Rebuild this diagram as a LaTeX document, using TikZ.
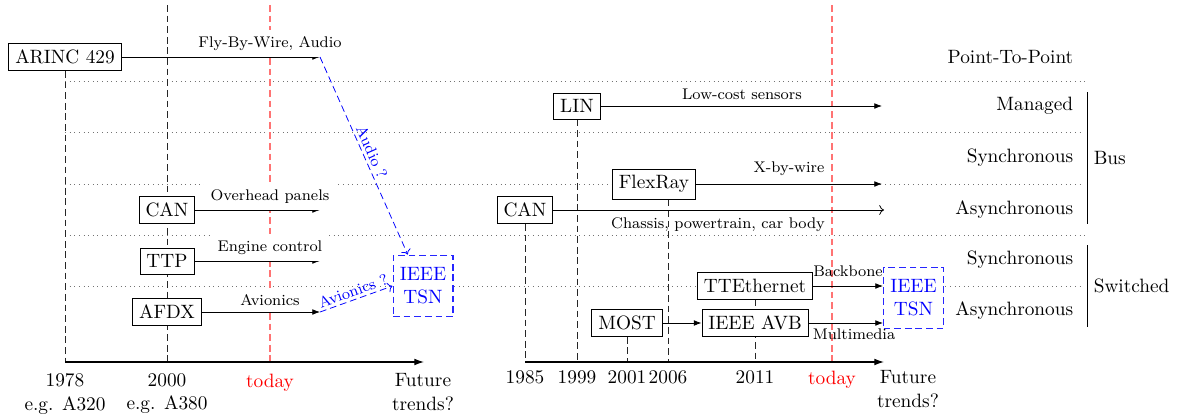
\documentclass[tikz,border=0pt]{standalone}
\usetikzlibrary{arrows.meta,backgrounds,calc}
\begin{document}
\begin{tikzpicture}[x=0.518pt,y=-0.518pt,
  tech/.style={draw, fill=white},
  future/.style={draw=blue!85, dash pattern=on 3.5pt off 2pt, semithick, fill=white,
                 text=blue, align=center,
                 minimum width=31pt, minimum height=32pt, inner sep=2pt},
  lab/.style={font=\footnotesize},
  labfill/.style={font=\footnotesize, fill=white},
  flow/.style={-{Latex[length=4pt,width=3pt]}},
  openflow/.style={->},
  hint/.style={blue, dash pattern=on 3.5pt off 2pt, ->},
  era/.style={dash pattern=on 3.5pt off 2pt, black!85},
  now/.style={dash pattern=on 3.5pt off 2pt, red!55, line width=0.75pt},
  sep/.style={dotted, black!55},
  axis/.style={semithick, -{Latex[length=5pt,width=3.5pt]}},
  yr/.style={anchor=north, align=center},
  cat/.style={anchor=east},
]
\useasboundingbox (0,0) rectangle (1179,418);

% ---------------- aviation timeline ----------------
\node[tech] (arinc) at (65,57) {ARINC 429};
\node[tech] (canA) at (167,210) {CAN};
\node[tech] (ttp) at (167,261) {TTP};
\node[tech] (afdx) at (167,312) {AFDX};
\node[future] (tsnA) at (423,286) {IEEE\\TSN};

\coordinate (arincEnd) at (320,57);
\coordinate (canAEnd) at (320,210);
\coordinate (ttpEnd) at (320,261);
\coordinate (afdxEnd) at (320,312);

\coordinate (axA0) at (65,362);
\coordinate (axA1) at (424,362);
\coordinate (t2000top) at (167,5);
\coordinate (t2000) at (167,362);
\coordinate (nowAtop) at (270,5);
\coordinate (nowA) at (270,362);

% ---------------- automotive timeline ----------------
\node[tech] (lin) at (577,106) {LIN};
\node[tech] (flexray) at (654,184) {FlexRay};
\node[tech] (canB) at (525,210) {CAN};
\node[tech] (most) at (627,323) {MOST};
\node[tech] (tte) at (755,286) {TTEthernet};
\node[tech] (avb) at (755,323) {IEEE AVB};
\node[future] (tsnB) at (913.5,298) {IEEE\\TSN};

\coordinate (linEnd) at (882,106);
\coordinate (flexEnd) at (882,184);
\coordinate (canBEnd) at (884,210);

\coordinate (axB0) at (525,362);
\coordinate (axB1) at (884,362);
\coordinate (t1999) at (577,362);
\coordinate (t2001) at (627,362);
\coordinate (t2006) at (668,362);
\coordinate (t2011) at (755,362);
\coordinate (nowBtop) at (832,5);
\coordinate (nowB) at (832,362);

% ---------------- grid behind the boxes ----------------
\begin{scope}[on background layer]
  \draw[sep] (65,81) -- (1087,81);
  \draw[sep] (65,132) -- (1084,132);
  \draw[sep] (65,184) -- (1084,184);
  \draw[sep] (65,235) -- (1087,235);
  \draw[sep] (65,286) -- (1084,286);

  \draw[era] (arinc.south) -- (axA0);
  \draw[era] (t2000top) -- (t2000);
  \draw[now] (nowAtop) -- (nowA);

  \draw[era] (canB.south) -- (axB0);
  \draw[era] (lin.south) -- (t1999);
  \draw[era] (most.south) -- (t2001);
  \draw[era] (flexray.south -| t2006) -- (t2006);
  \draw[era] (tte.south) -- (t2011);
  \draw[now] (nowBtop) -- (nowB);
\end{scope}

% ---------------- aviation links ----------------
\draw[flow] (arinc.east) -- (arincEnd);
\node[labfill, above] (fbw) at (270,57) {Fly-By-Wire, Audio};
\draw[flow] (canA.east) -- (canAEnd);
\node[labfill, above] (ovh) at (270,210) {Overhead panels};
\draw[flow] (ttp.east) -- (ttpEnd);
\node[labfill, above] (eng) at (270,261) {Engine control};
\draw[flow] (afdx.east) -- (afdxEnd);
\node[labfill, above] (avi) at (270,312) {Avionics};

\draw[hint] (arincEnd) -- ($(tsnA.north west)!0.25!(tsnA.north east)$)
  node[midway, sloped, above, lab, inner sep=1.5pt] (audioq) {Audio ?};
\draw[hint] (afdxEnd) -- (tsnA.west)
  node[midway, sloped, above, lab, inner sep=1.5pt] (avioq) {Avionics ?};

\draw[axis] (axA0) -- (axA1);
\node[yr] (y1978) at (65,367) {1978\\e.g. A320};
\node[yr] (y2000) at (167,367) {2000\\e.g. A380};
\node[yr, text=red] (todayA) at (270,367) {today};
\node[yr] (futA) at (423,367) {Future\\trends?};

% ---------------- automotive links ----------------
\draw[flow] (lin.east) -- (linEnd);
\node[labfill, above] (lcs) at (742,106) {Low-cost sensors};
\draw[flow] (flexray.east) -- (flexEnd);
\node[lab, above] (xbw) at (789,182) {X-by-wire};
\draw[openflow] (canB.east) -- (canBEnd);
\node[lab, below] (chassis) at (718,211) {Chassis, powertrain, car body};
\draw[flow] (most.east) -- (avb.west);
\draw[flow] (tte.east) -- (tte.east -| tsnB.west);
\node[lab, above, inner sep=1pt] (backbone) at (848,279) {Backbone};
\draw[flow] (avb.east) -- (avb.east -| tsnB.west);
\node[lab, below, inner sep=1pt] (mm) at (854,326) {Multimedia};

\draw[axis] (axB0) -- (axB1);
\node[yr] (y1985) at (525,364) {1985};
\node[yr] (y1999) at (577,364) {1999};
\node[yr] (y2001) at (627,364) {2001};
\node[yr] (y2006) at (668,364) {2006};
\node[yr] (y2011) at (755,364) {2011};
\node[yr, text=red] (todayB) at (832,364) {today};
\node[yr] (futB) at (908,364) {Future\\trends?};

% ---------------- categories ----------------
\node[cat] (p2p) at (1080,57) {Point-To-Point};
\node[cat] (managed) at (1080,106) {Managed};
\node[cat] (busSync) at (1080,158) {Synchronous};
\node[cat] (busAsync) at (1080,210) {Asynchronous};
\node[cat] (swSync) at (1080,260) {Synchronous};
\node[cat] (swAsync) at (1080,311) {Asynchronous};

\draw (1087,92) -- (1087,224) node[midway, right] (bus) {Bus};
\draw (1087,245) -- (1087,327) node[midway, right] (switched) {Switched};
\end{tikzpicture}
\end{document}
